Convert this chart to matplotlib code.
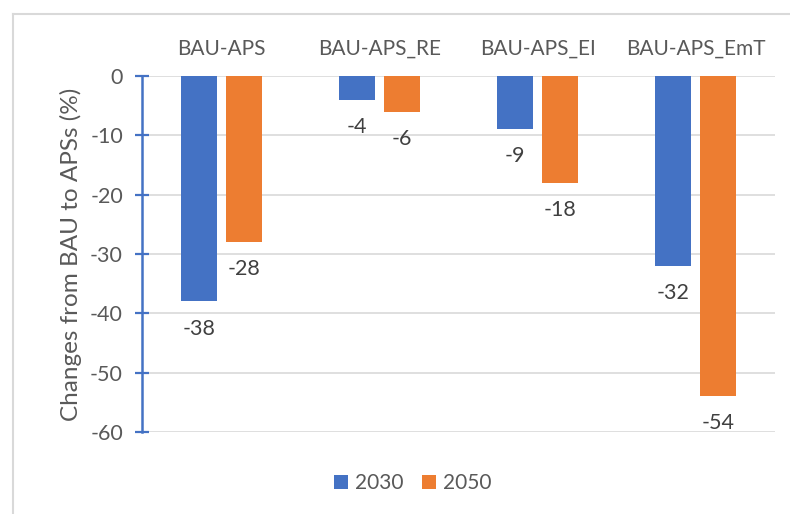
import numpy as np
import matplotlib.pyplot as plt
from matplotlib.lines import Line2D

# data
categories = ['BAU-APS', 'BAU-APS_RE', 'BAU-APS_EI', 'BAU-APS_EmT']
years = ['2030', '2050']
vals_2030 = [-38, -4, -9, -32]
vals_2050 = [-28, -6, -18, -54]

blue = '#4472C4'
orange = '#ED7D31'
txt = '#595959'

plt.rcParams['font.family'] = ['Lato', 'DejaVu Sans']
plt.rcParams['axes.unicode_minus'] = False

fig = plt.figure(figsize=(7.9, 5.14), dpi=100)
ax = fig.add_axes([142 / 790, 1 - 432 / 514, 633 / 790, 356 / 514])

x = np.arange(len(categories))
w = 0.228
gap = 0.057
b1 = ax.bar(x - (w + gap) / 2, vals_2030, w, color=blue, label=years[0], zorder=3)
b2 = ax.bar(x + (w + gap) / 2, vals_2050, w, color=orange, label=years[1], zorder=3)

for bars, vals in ((b1, vals_2030), (b2, vals_2050)):
    for r, v in zip(bars, vals):
        ax.annotate(str(v), (r.get_x() + r.get_width() / 2, v), xytext=(0, -19.5),
                    textcoords='offset points', ha='center', va='center',
                    fontsize=15.5, color='#404040')

ax.set_xlim(-0.5, len(categories) - 0.5)
ax.set_ylim(-60, 0)
ax.set_yticks(np.arange(-60, 1, 10))
ax.grid(axis='y', color='#D9D9D9', lw=1.2, zorder=0)

ax.xaxis.tick_top()
ax.set_xticks(x)
ax.set_xticklabels(categories)
ax.tick_params(axis='x', length=0, pad=12.5, labelsize=15, labelcolor=txt)
ax.tick_params(axis='y', direction='inout', length=9.5, width=1.6, color=blue,
               pad=9, labelsize=15.5, labelcolor=txt)

for s in ('top', 'right', 'bottom'):
    ax.spines[s].set_visible(False)
ax.spines['left'].set_color(blue)
ax.spines['left'].set_linewidth(1.8)
ax.spines['left'].set_zorder(4)

ax.set_ylabel('Changes from BAU to APSs (%)', fontsize=17.5, color=txt, labelpad=6)

fig.legend(loc='center', bbox_to_anchor=(413 / 790, 1 - 483 / 514), ncol=2,
           frameon=False, fontsize=15, labelcolor=txt, handlelength=0.65,
           handleheight=0.65, handletextpad=0.35, columnspacing=0.9)

# chart frame
fig.add_artist(Line2D([13 / 790, 13 / 790], [0, 1 - 14 / 514], color='#D9D9D9', lw=1.5))
fig.add_artist(Line2D([13 / 790, 1], [1 - 14 / 514, 1 - 14 / 514], color='#D9D9D9', lw=1.5))

fig.savefig('out.png', dpi=100)
